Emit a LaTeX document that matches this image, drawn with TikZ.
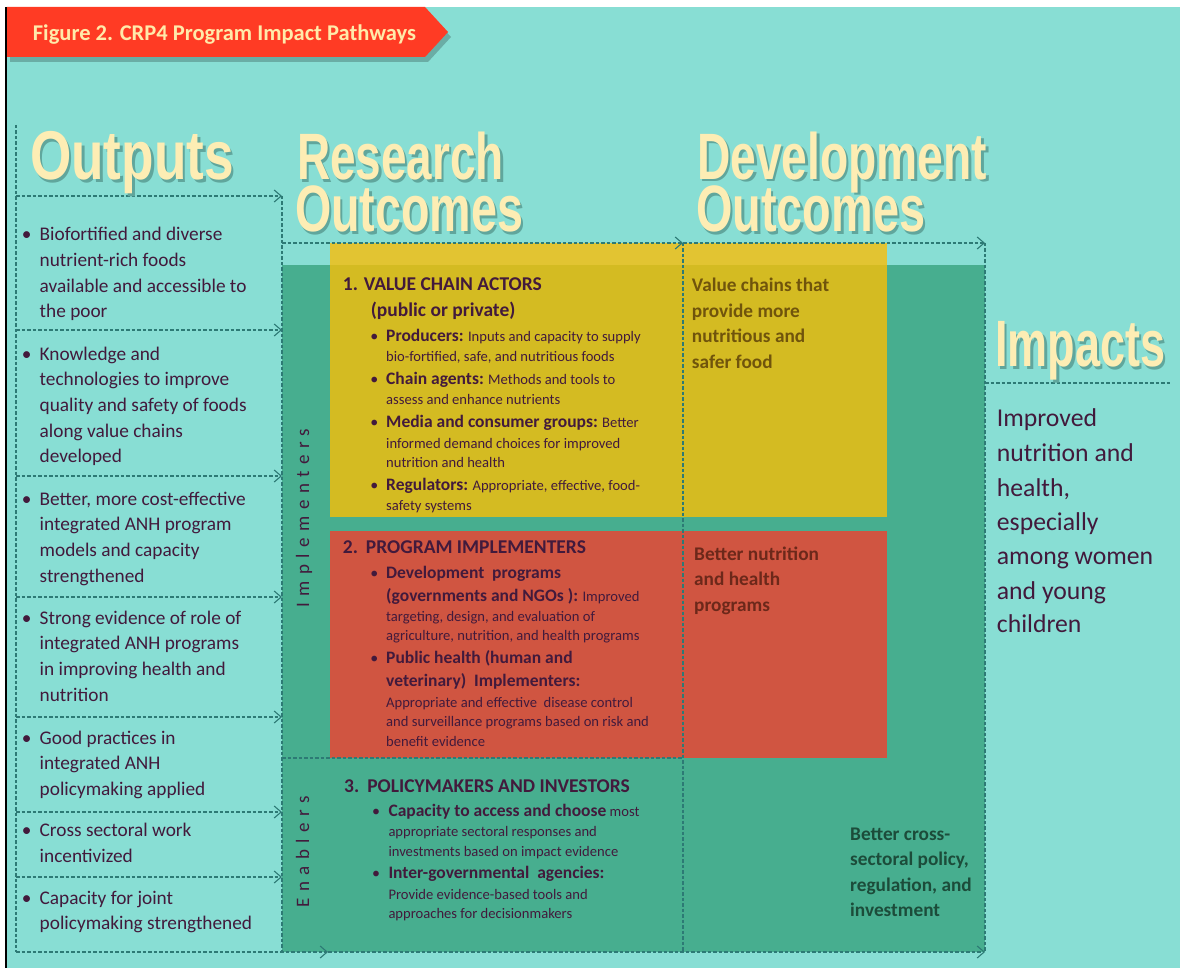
\documentclass[tikz,border=0pt]{standalone}
\usepackage{fontspec}
\usepackage{graphicx}
\setmainfont{Carlito}
\newfontfamily\headfont{Liberation Sans}
\newfontfamily\spacedfont[LetterSpace=34]{Carlito}
\usetikzlibrary{arrows.meta}

\definecolor{bgteal}{RGB}{136,222,212}
\definecolor{deepgreen}{RGB}{71,174,143}
\definecolor{yellowtop}{RGB}{226,196,50}
\definecolor{yellowbox}{RGB}{212,187,34}
\definecolor{redbox}{RGB}{208,85,65}
\definecolor{bannerred}{RGB}{255,59,36}
\definecolor{guidecol}{RGB}{45,122,117}
\definecolor{inkpurple}{RGB}{66,26,60}
\definecolor{cream}{RGB}{253,237,180}
\definecolor{titlecream}{RGB}{255,234,170}
\definecolor{olivebrown}{RGB}{112,84,12}
\definecolor{rustbrown}{RGB}{108,40,26}
\definecolor{pinegreen}{RGB}{28,76,58}
\definecolor{shadowcol}{RGB}{96,166,156}

% bold run-in heads inside the coloured boxes
\newcommand\hb[1]{{\fontsize{17.5}{20}\selectfont\bfseries #1}}
% condensed display word
\newcommand\bigword[3]{\scalebox{#2}[1]{\headfont\bfseries\fontsize{#1}{#1}\selectfont #3}}
% display word with its soft drop shadow, set in one box
\newcommand\header[6]{%
  \node[hdr] (#1) at (#2,#3)
    {\makebox[0pt][l]{\hspace{2.5pt}\raisebox{-2.5pt}{\color{shadowcol}\bigword{#4}{#5}{#6}}}\bigword{#4}{#5}{#6}};}
% a column of text lines, each given by its baseline y
\newcommand\rows[4]{%
  \foreach \yy/\rowtext [count=\k] in {#4} {\node[#3] (#1\k) at (#2,\yy) {\rowtext};}}

\begin{document}
\begin{tikzpicture}[x=1pt,y=-1pt,
  guide/.style={draw=guidecol,line width=1.1pt,dash pattern=on 3.5pt off 2pt},
  flow/.style={guide,-{Straight Barb[length=7pt,width=12pt,line width=1.1pt]}},
  hdr/.style={anchor=base west,inner sep=0pt,text=cream},
  base/.style={anchor=base west,inner sep=0pt},
  outtxt/.style={base,text=inkpurple,font=\fontsize{19.3}{23}\selectfont},
  boxhead/.style={base,text=inkpurple,font=\fontsize{19.5}{22}\selectfont\bfseries},
  boxtxt/.style={base,text=inkpurple,font=\fontsize{14.6}{18}\selectfont},
  bul/.style={anchor=base,inner sep=0pt,text=inkpurple},
  devtxt/.style={base,font=\fontsize{19.3}{23}\selectfont\bfseries},
  imptxt/.style={base,text=inkpurple,font=\fontsize{25.7}{30}\selectfont},
  vlabel/.style={anchor=base,inner sep=0pt,rotate=90,text=inkpurple,font=\spacedfont\fontsize{19}{22}\selectfont}]

\useasboundingbox (0,0) rectangle (1180,968);
\fill[white] (0,0) rectangle (1180,968);
\fill[bgteal] (7,7) rectangle (1180,968);
\draw[black,line width=1.6pt] (6,7) -- (6,968);

% title banner
\fill[black,opacity=0.22] (10,12) -- (428,12) -- (451,37) -- (428,62) -- (10,62) -- cycle;
\fill[bannerred] (7,7) -- (425,7) -- (448,32) -- (425,57) -- (7,57) -- cycle;
\node[base,text=titlecream,font=\fontsize{22.5}{26}\selectfont\bfseries] (title) at (32.7,40.7)
  {Figure 2. CRP4 Program Impact Pathways};

% coloured panels
\fill[deepgreen] (282,265) rectangle (985,952);
\fill[yellowtop] (330,243) rectangle (887,265);
\fill[yellowbox] (330,265) rectangle (887,517);
\fill[redbox] (330,531) rectangle (887,758);

% grid of dashed guides
\coordinate (oTop) at (16,125);
\coordinate (oBot) at (16,952);
\coordinate (rTop) at (282,196);
\coordinate (rRow) at (282,243);
\coordinate (rMid) at (282,758);
\coordinate (rBot) at (282,952);
\coordinate (dTop) at (683,243);
\coordinate (dMid) at (683,758);
\coordinate (dBot) at (683,952);
\coordinate (iTop) at (985,243);
\coordinate (iLine) at (985,383);
\coordinate (iEnd) at (1170,383);
\coordinate (iBot) at (985,952);
\coordinate (bArr) at (328,952);

\draw[guide] (oTop) -- (oBot);
\draw[guide] (rTop) -- (rBot);
\draw[guide] (dTop) -- (dBot);
\draw[guide] (iTop) -- (iBot);
\draw[guide] (rMid) -- (dMid);
\draw[guide] (iLine) -- (iEnd);
\foreach \yy [count=\i] in {196,330,476,597,717,812,877} {
  \coordinate (ol\i) at (16,\yy);
  \coordinate (or\i) at (282,\yy);
  \draw[flow] (ol\i) -- (or\i);
}
\draw[flow] (rRow) -- (dTop);
\draw[flow] (dTop) -- (iTop);
\draw[flow] (oBot) -- (bArr);
\draw[flow] (bArr) -- (iBot);

% column headings
\header{hOut}{30}{180}{69}{0.77}{Outputs}
\header{hRes}{297}{180}{65.6}{0.70}{Research}
\header{hResO}{295}{232}{65.6}{0.711}{Outcomes}
\header{hDev}{697}{179.5}{65.6}{0.704}{Development}
\header{hDevO}{696}{231.7}{65.6}{0.714}{Outcomes}
\header{hImp}{995}{366.7}{65.6}{0.686}{Impacts}

% outputs column
\foreach \yy [count=\i] in {240.7,360,505,624,744,836.7,904}
  \node[bul,font=\fontsize{19.3}{23}\selectfont] (ob\i) at (26.7,\yy) {•};
\rows{oA}{39.5}{outtxt}{240.7/Biofortified and diverse, 266.4/nutrient-rich foods,
  292.1/available and accessible to, 317.8/the poor}
\rows{oB}{39.5}{outtxt}{360/Knowledge and, 385.7/technologies to improve,
  411.4/quality and safety of foods, 437.1/along value chains, 462.8/developed}
\rows{oC}{39.5}{outtxt}{505/{Better, more cost-effective}, 530.7/integrated ANH program,
  556.4/models and capacity, 582.1/strengthened}
\rows{oD}{39.5}{outtxt}{624/Strong evidence of role of, 649.7/integrated ANH programs,
  675.4/in improving health and, 701.1/nutrition}
\rows{oE}{39.5}{outtxt}{744/Good practices in, 769.7/integrated ANH, 795.4/policymaking applied}
\rows{oF}{39.5}{outtxt}{836.7/Cross sectoral work, 862.4/incentivized}
\rows{oG}{39.5}{outtxt}{904/Capacity for joint, 929.7/policymaking strengthened}

% side labels
\node[vlabel] (impl) at (309,518) {Implementers};
\node[vlabel] (enab) at (309,852) {Enablers};

% 1. value chain actors
\node[boxhead] (vcaHead) at (342.7,290.7) {1. VALUE CHAIN ACTORS};
\node[boxhead] (vcaSub) at (370.7,316.7) {(public or private)};
\foreach \yy [count=\i] in {341.7,384.3,427.7,490}
  \node[bul,font=\fontsize{16}{20}\selectfont] (yb\i) at (374.3,\yy) {•};
\rows{yA}{386}{boxtxt}{341.7/\hb{Producers:} Inputs and capacity to supply,
  361.7/{bio-fortified, safe, and nutritious foods}}
\rows{yB}{386}{boxtxt}{384.3/\hb{Chain agents:} Methods and tools to, 404.3/assess and enhance nutrients}
\rows{yC}{386}{boxtxt}{427.7/\hb{Media and consumer groups:} Better,
  448/informed demand choices for improved, 467.7/nutrition and health}
\rows{yD}{386}{boxtxt}{490/{\hb{Regulators:} Appropriate, effective, food-}, 510/safety systems}

% 2. program implementers
\node[boxhead] (piHead) at (342.7,553.3) {2.\hspace{8pt}PROGRAM IMPLEMENTERS};
\foreach \yy [count=\i] in {578.3,663.3}
  \node[bul,font=\fontsize{16}{20}\selectfont] (rb\i) at (374.3,\yy) {•};
\rows{rA}{386}{boxtxt}{578.3/\hb{Development\ \ programs},
  601/\hb{(governments and NGOs ):} Improved,
  621/{targeting, design, and evaluation of},
  640/{agriculture, nutrition, and health programs}}
\rows{rB}{386}{boxtxt}{663.3/\hb{Public health (human and},
  686.7/\hb{veterinary)\ \ Implementers:},
  707.3/Appropriate and effective\ \ disease control,
  726.7/and surveillance programs based on risk and,
  746/benefit evidence}

% 3. policymakers and investors
\node[boxhead] (pmHead) at (344,792.3) {3.\hspace{8pt}POLICYMAKERS AND INVESTORS};
\foreach \yy [count=\i] in {816.7,878.3}
  \node[bul,font=\fontsize{16}{20}\selectfont] (gb\i) at (376,\yy) {•};
\rows{gA}{388.3}{boxtxt}{816.7/\hb{Capacity to access and choose} most,
  836.7/appropriate sectoral responses and,
  856/investments based on impact evidence}
\rows{gB}{388.3}{boxtxt}{878.3/\hb{Inter-governmental\ \ agencies:},
  899/Provide evidence-based tools and,
  918.3/approaches for decisionmakers}

% development outcomes
\rows{dV}{691.7}{devtxt,text=olivebrown}{291.7/Value chains that, 317/provide more,
  342.7/nutritious and, 368.3/safer food}
\rows{dN}{694}{devtxt,text=rustbrown}{560/Better nutrition, 585.7/and health, 611/programs}
\rows{dP}{850}{devtxt,text=pinegreen}{840/Better cross-, 865.7/{sectoral policy,},
  891/{regulation, and}, 916.7/investment}

% impacts
\rows{iT}{996.7}{imptxt}{426/Improved, 461.5/nutrition and, 496/{health,},
  530/especially, 564.3/among women, 599/and young, 632.7/children}

\end{tikzpicture}
\end{document}
